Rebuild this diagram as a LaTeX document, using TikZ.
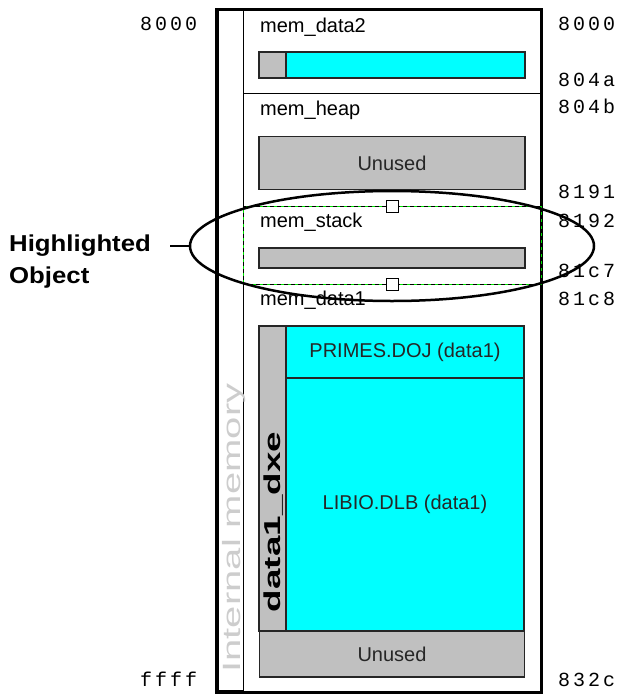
\documentclass[tikz,border=0pt]{standalone}
\usepackage{fontspec}
\setmainfont{Liberation Sans}
\newfontfamily\addrfont[LetterSpace=15]{Liberation Mono}
\newfontfamily\widefont[FakeStretch=1.6]{Liberation Sans}
\newfontfamily\hlfont[FakeStretch=1.12]{Liberation Sans}
\usetikzlibrary{shapes.geometric, positioning}
\definecolor{memgray}{RGB}{192,192,192}
\definecolor{memcyan}{RGB}{0,255,255}
\definecolor{labelgray}{RGB}{205,205,205}
\definecolor{selgreen}{RGB}{0,230,0}

\begin{document}
\begin{tikzpicture}[x=1pt, y=-1pt,
    memlabel/.style={anchor=base west, inner sep=0pt, font=\fontsize{20}{24}\selectfont},
    addr/.style={anchor=base west, inner sep=0pt, font=\addrfont\fontsize{20}{24}\selectfont},
    graybox/.style={draw=black!85, line width=1.5pt, fill=memgray},
    cyanbox/.style={draw=black!85, line width=1.5pt, fill=memcyan},
    boxtext/.style={font=\fontsize{20}{24}\selectfont, text=black!85},
    handle/.style={draw, fill=white, line width=1pt, minimum size=12pt, inner sep=0pt}
  ]
  \useasboundingbox (0,0) rectangle (622,694);
  % frame and memory column
  \draw[line width=3pt] (216,9) rectangle (541,692);
  \draw[line width=1pt] (218,10) rectangle (243,690);
  \node[rotate=90, anchor=base, inner sep=0pt, text=labelgray,
        font=\widefont\fontsize{25}{30}\selectfont] (colname) at (240,528) {Internal memory};
  \foreach \y in {93, 206, 284}
    \draw[line width=1pt] (243,\y) -- (541,\y);

  % mem_data2
  \node[memlabel] (data2) at (260,32) {mem\_data2};
  \draw[graybox] (259,52) rectangle (286,78);
  \draw[cyanbox] (286,52) rectangle (525,78);

  % mem_heap
  \node[memlabel] (heap) at (260,115) {mem\_heap};
  \node[graybox, boxtext, minimum width=266pt, minimum height=53pt] (heapfree) at (392,163) {Unused};

  % mem_stack
  \node[memlabel] (stack) at (260,227) {mem\_stack};
  \draw[graybox] (259,248) rectangle (525,268);

  % mem_data1
  \node[memlabel] (data1) at (260,305) {mem\_data1};
  \draw[graybox] (259,326) rectangle (286,631);
  \node[cyanbox, boxtext, minimum width=238pt, minimum height=52pt] (primes) at (405,352) {PRIMES.DOJ (data1)};
  \node[cyanbox, boxtext, minimum width=238pt, minimum height=253pt] (libio) at (405,504.5) {LIBIO.DLB (data1)};
  \node[graybox, boxtext, minimum width=265pt, minimum height=46pt] (datafree) at (392,654) {Unused};
  \node[rotate=90, anchor=base, inner sep=0pt,
        font=\widefont\bfseries\fontsize{23}{28}\selectfont] (dxe) at (280,522) {data1\_dxe};

  % addresses
  \node[addr] (lo) at (140,30) {8000};
  \node[addr] (hi) at (140,686) {ffff};
  \node[addr] (s0) at (558,30) {8000};
  \node[addr] (e0) at (558,86) {804a};
  \node[addr] (s1) at (558,113) {804b};
  \node[addr] (e1) at (558,198) {8191};
  \node[addr] (s2) at (558,227) {8192};
  \node[addr] (e2) at (558,277) {81c7};
  \node[addr] (s3) at (558,305) {81c8};
  \node[addr] (e3) at (558,686) {832c};

  % selection frame
  \draw[selgreen, line width=1pt] (243,206) rectangle (541,284);
  \draw[dash pattern=on 4pt off 3pt, line width=1pt] (243,206) rectangle (541,284);
  \node[handle] (htop) at (392,206) {};
  \node[handle] (hbot) at (392,284) {};

  % highlight callout
  \node[ellipse, draw, line width=2.5pt, minimum width=404pt, minimum height=110pt,
        inner sep=0pt] (hl) at (392,246) {};
  \node[anchor=west, align=left, inner sep=0pt,
        font=\hlfont\bfseries\fontsize{23}{32}\selectfont] (hltext) at (9,262) {Highlighted\\Object};
  \coordinate (hlpin) at (170,246);
  \draw[line width=2.5pt] (hlpin) -- (hl.west);
\end{tikzpicture}
\end{document}
